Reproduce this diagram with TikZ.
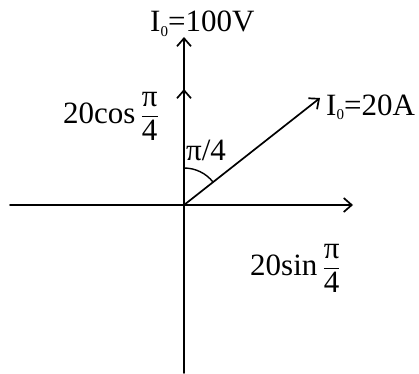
\documentclass[tikz,border=0pt]{standalone}
\usepackage{amsmath}
\usepackage{fontspec}
\setmainfont{Liberation Serif}
\usetikzlibrary{arrows.meta,calc}
\tikzset{
    lab/.style={
        font=\fontsize{31}{36}\selectfont, inner sep=0pt
    },
    ax/.style={
        line width=1.7pt, -{Straight Barb[length=8pt,width=14pt,line width=1.7pt]}
    }
}
\newcommand{\Isub}{I\raisebox{-0.35ex}{\fontsize{15}{15}\selectfont 0}}
\newcommand{\pifrac}{\ensuremath{\dfrac{\mbox{π}}{\mbox{4}}}}

\begin{document}
\begin{tikzpicture}[x=1pt,y=1pt,line cap=round,line join=round]
    \useasboundingbox (0,0) rectangle (419,373);

% --- geometry ---
    \coordinate (O)   at (184,168);     % origin
    \coordinate (top) at (184,336);     % tip of vertical axis
    \coordinate (mid) at (184,284);     % tip of cos component
    \coordinate (bot) at (184,0);       % bottom end of vertical axis
    \coordinate (lft) at (10,168);      % left end of horizontal axis
    \coordinate (rgt) at (353,168);     % tip of horizontal axis
    \coordinate (I)   at (320,275);     % tip of current phasor

% axes
    \draw[line width=1.7pt] (bot) -- (O);
    \draw[ax] (O) -- (top);
    \draw[ax] (O) -- (mid);
    \draw[line width=1.7pt] (lft) -- (O);
    \draw[ax] (O) -- (rgt);

% current phasor and angle
    \draw[ax] (O) -- (I);
    \draw[line width=1.4pt] ($(O)+(0,37)$) arc (90:38.2:37);

% labels
    \node[lab, anchor=base west] (v0) at (150,341) {\Isub=100V};
    \node[lab, anchor=base west] (ic) at (63,250) {20cos\,\pifrac};
    \node[lab, anchor=base west] (th) at (186,213) {π/4};
    \node[lab, anchor=base west] (i0) at (326,258) {\Isub=20A};
    \node[lab, anchor=base west] (is) at (250,98) {20sin\,\pifrac};

\end{tikzpicture}
\end{document}
